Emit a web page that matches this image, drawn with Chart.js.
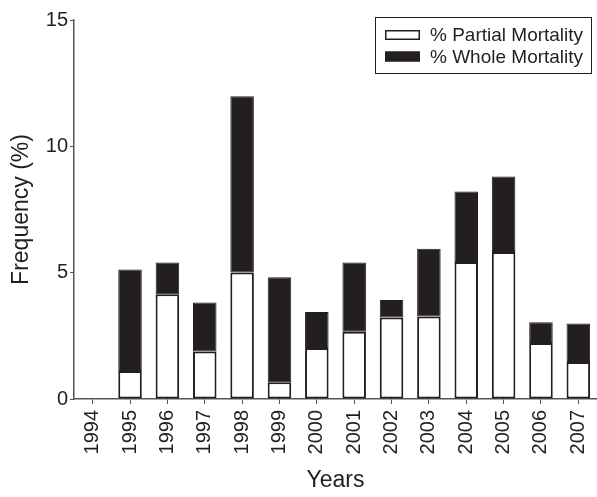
<!DOCTYPE html>
<html>
<head>
<meta charset="utf-8">
<script src="https://cdn.jsdelivr.net/npm/chart.js@4"></script>
<style>
  html, body { margin: 0; padding: 0; background: #fff; }
  #wrap { width: 597px; height: 497px; }
</style>
</head>
<body>
<div id="wrap"><canvas id="myChart" width="597" height="497"></canvas></div>
<script>
const years = ['1994', '1995', '1996', '1997', '1998', '1999', '2000',
  '2001', '2002', '2003', '2004', '2005', '2006', '2007'];
const partialMortality = [0, 1.11, 4.15, 1.88, 5.01, 0.66, 2.02, 2.66, 3.23, 3.27, 5.42, 5.82, 2.22, 1.46];
const wholeMortality = [0, 4.02, 1.25, 1.94, 6.97, 4.16, 1.42, 2.74, 0.69, 2.68, 2.79, 2.99, 0.82, 1.53];
const yTicks = [0, 5, 10, 15];

const ink = '#231f20';
const fontFamily = '"Liberation Sans", Arial, Helvetica, sans-serif';

// legend drawn by hand so it can sit in a box inside the plot
const boxLegend = {
  id: 'boxLegend',
  afterDraw(chart) {
    const ctx = chart.ctx;
    ctx.save();
    ctx.strokeStyle = ink;
    ctx.lineWidth = 1;
    ctx.strokeRect(375.5, 17.5, 216, 56);
    ctx.font = '19px ' + fontFamily;
    ctx.textBaseline = 'middle';
    chart.data.datasets.forEach((ds, i) => {
      const y = 35 + i * 21.5;
      ctx.fillStyle = ds.backgroundColor;
      ctx.fillRect(385, y - 5, 35, 10);
      ctx.strokeStyle = ink;
      ctx.lineWidth = 1.5;
      ctx.strokeRect(385.75, y - 4.25, 33.5, 8.5);
      ctx.fillStyle = ink;
      ctx.fillText(ds.label, 430, y + 1);
    });
    ctx.restore();
  }
};

const myChart = document.getElementById('myChart');

let barchart = new Chart(myChart, {
  type: 'bar',
  data: {
    labels: years,
    datasets: [{
      label: '% Partial Mortality',
      data: partialMortality,
      backgroundColor: '#ffffff',
      borderColor: ink,
      borderWidth: 2,
      borderSkipped: false
    }, {
      label: '% Whole Mortality',
      data: wholeMortality,
      backgroundColor: ink,
      borderColor: ink,
      borderWidth: 1,
      borderSkipped: false
    }]
  },
  options: {
    responsive: false,
    animation: false,
    layout: { padding: { top: 20, right: 0, left: 0, bottom: 0 } },
    datasets: {
      bar: { barPercentage: 0.63, categoryPercentage: 1 }
    },
    plugins: {
      legend: { display: false },
      tooltip: { enabled: false }
    },
    scales: {
      x: {
        stacked: true,
        offset: true,
        grid: { display: true, offset: false, drawOnChartArea: false, tickLength: 5, color: '#555', lineWidth: 1 },
        border: { display: true, color: '#555', width: 1.5 },
        ticks: {
          color: ink,
          font: { family: fontFamily, size: 20 },
          minRotation: 90,
          maxRotation: 90,
          padding: 6
        },
        title: {
          display: true,
          text: 'Years',
          color: ink,
          font: { family: fontFamily, size: 23 },
          padding: { top: 0, bottom: 3 }
        },
        afterFit(scale) {
          scale.height = 98;
          scale.paddingRight = 0;
        }
      },
      y: {
        stacked: true,
        min: 0,
        max: 15,
        afterBuildTicks(scale) { scale.ticks = yTicks.map(v => ({ value: v })); },
        grid: { display: true, drawOnChartArea: false, tickLength: 4, color: '#555', lineWidth: 1 },
        border: { display: true, color: '#555', width: 1.5 },
        ticks: {
          color: ink,
          font: { family: fontFamily, size: 20 },
          padding: 2
        },
        title: {
          display: true,
          text: 'Frequency (%)',
          color: ink,
          font: { family: fontFamily, size: 23 },
          padding: { top: 8, bottom: 0 }
        },
        afterFit(scale) { scale.width = 74; }
      }
    }
  },
  plugins: [boxLegend]
});
</script>
</body>
</html>
